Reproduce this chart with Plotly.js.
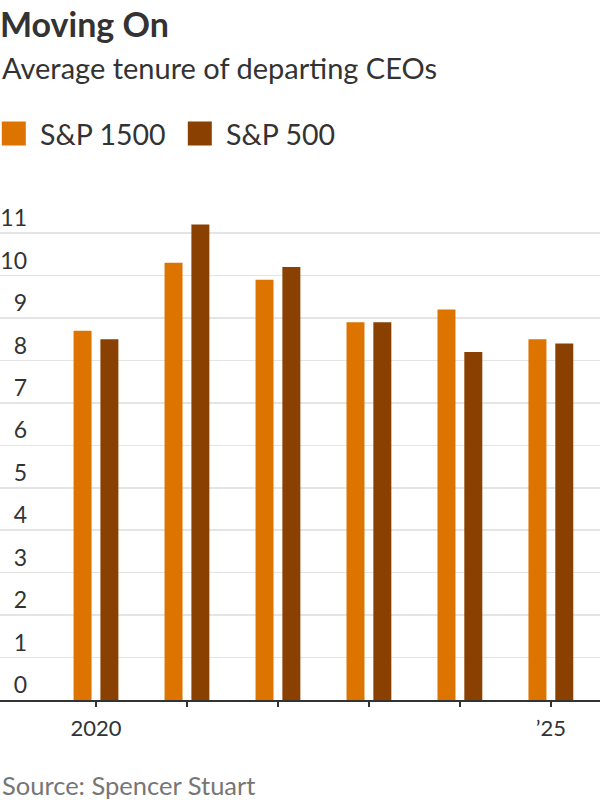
<!DOCTYPE html>
<html>
<head>
<meta charset="utf-8">
<script src="https://cdn.plot.ly/plotly-3.0.1.min.js"></script>
<style>
html,body{margin:0;padding:0;background:#fff;}
#chart{width:600px;height:800px;}
</style>
</head>
<body>
<div id="chart"></div>
<script>
const years = [2020, 2021, 2022, 2023, 2024, 2025];
const tickLabels = ['2020', '', '', '', '', '\u201925'];
const seriesNames = ['S&P 1500', 'S&P 500'];
const sp1500 = [8.7, 10.3, 9.9, 8.9, 9.2, 8.5];
const sp500 = [8.5, 11.2, 10.2, 8.9, 8.2, 8.4];
const yTicks = [0, 1, 2, 3, 4, 5, 6, 7, 8, 9, 10, 11];

const colors = ['#dd7400', '#8a4000'];
const FONT = 'Lato, "Noto Sans", sans-serif';
const TXT = '#333333';

const traces = [
  {type: 'bar', name: seriesNames[0], x: years, y: sp1500, marker: {color: colors[0]}, showlegend: false, hoverinfo: 'x+y'},
  {type: 'bar', name: seriesNames[1], x: years, y: sp500, marker: {color: colors[1]}, showlegend: false, hoverinfo: 'x+y'}
];

const layout = {
  width: 600, height: 800,
  margin: {l: 0, r: 0, t: 200, b: 100, pad: 0},
  paper_bgcolor: '#fff', plot_bgcolor: '#fff',
  font: {family: FONT, color: TXT, size: 22},
  barmode: 'group',
  bargap: 0.41,
  bargroupgap: 0.33,
  title: {
    text: '<b>Moving On</b>',
    font: {family: FONT, size: 34, color: TXT},
    x: 0, xref: 'paper', xanchor: 'left',
    y: 0.969, yref: 'container', yanchor: 'middle'
  },
  xaxis: {
    range: [2018.945, 2025.54],
    tickvals: years, ticktext: tickLabels,
    ticks: 'outside', ticklen: 5, tickwidth: 1.5, tickcolor: TXT,
    showline: true, linecolor: TXT, linewidth: 1.5,
    showgrid: false, zeroline: false,
    ticklabelstandoff: 3,
    tickfont: {family: FONT, size: 22, color: TXT},
    fixedrange: true
  },
  yaxis: {
    range: [0, 11.78],
    tickvals: yTicks,
    anchor: 'free', position: 0.045,
    ticks: '', showline: false, zeroline: false,
    showgrid: true, gridcolor: '#e4e4e4', gridwidth: 1.5,
    ticklabelshift: -15, ticklabelstandoff: 0,
    tickfont: {family: FONT, size: 23, color: TXT},
    fixedrange: true
  },
  shapes: [
    {type: 'rect', xref: 'paper', yref: 'paper', x0: 0.003, x1: 0.043, y0: 1.109, y1: 1.157, fillcolor: colors[0], line: {width: 0}},
    {type: 'rect', xref: 'paper', yref: 'paper', x0: 0.313, x1: 0.353, y0: 1.109, y1: 1.157, fillcolor: colors[1], line: {width: 0}}
  ],
  annotations: [
    {text: 'Average tenure of departing CEOs', xref: 'paper', yref: 'paper', x: 0, y: 1.266, xanchor: 'left', yanchor: 'middle', showarrow: false, font: {family: FONT, size: 29, color: TXT}},
    {text: seriesNames[0], xref: 'paper', yref: 'paper', x: 0.063, y: 1.133, xanchor: 'left', yanchor: 'middle', showarrow: false, font: {family: FONT, size: 28.5, color: TXT}},
    {text: seriesNames[1], xref: 'paper', yref: 'paper', x: 0.373, y: 1.133, xanchor: 'left', yanchor: 'middle', showarrow: false, font: {family: FONT, size: 28.5, color: TXT}},
    {text: 'Source: Spencer Stuart', xref: 'paper', yref: 'paper', x: 0, y: -0.17, xanchor: 'left', yanchor: 'middle', showarrow: false, font: {family: FONT, size: 25.5, color: '#767676'}}
  ]
};

Plotly.newPlot('chart', traces, layout, {displayModeBar: false, staticPlot: true});
</script>
</body>
</html>
